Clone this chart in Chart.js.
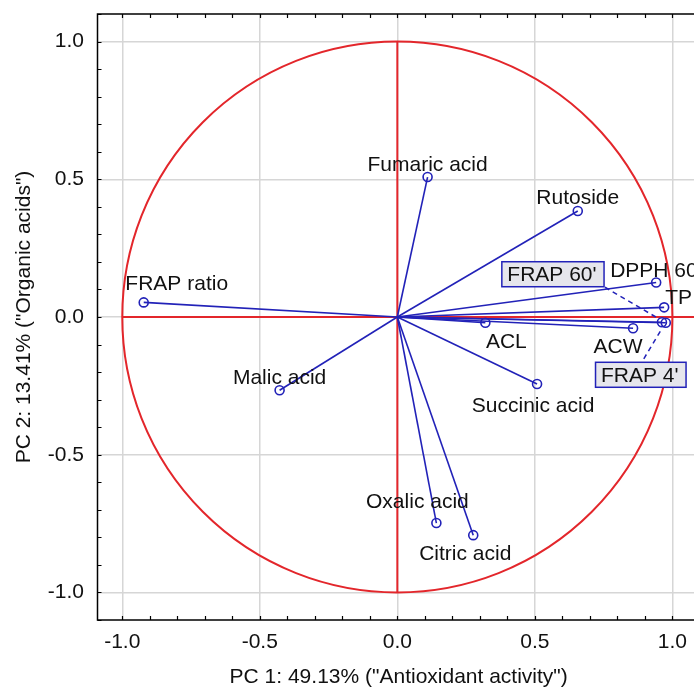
<!DOCTYPE html>
<html>
<head>
<meta charset="utf-8">
<script src="https://cdn.jsdelivr.net/npm/chart.js@4.4.1/dist/chart.umd.min.js"></script>
<style>
  html, body { margin: 0; padding: 0; background: #fff; overflow: hidden; }
  canvas { display: block; }
</style>
</head>
<body>
<canvas id="chart" width="706" height="688"></canvas>
<script>
// PCA loadings (PC1, PC2)
const variables = ['Fumaric acid', 'Rutoside', 'DPPH 60\'', 'TP', 'FRAP 60\'', 'FRAP 4\'', 'ACW', 'ACL',
  'Succinic acid', 'FRAP ratio', 'Malic acid', 'Oxalic acid', 'Citric acid'];
const pc1 = [0.110, 0.656, 0.941, 0.970, 0.962, 0.976, 0.857, 0.320, 0.508, -0.922, -0.428, 0.142, 0.276];
const pc2 = [0.508, 0.385, 0.125, 0.035, -0.019, -0.021, -0.041, -0.021, -0.243, 0.053, -0.266, -0.748, -0.792];

const tickValues = [-1.0, -0.5, 0.0, 0.5, 1.0];
const xTitle = 'PC 1: 49.13% ("Antioxidant activity")';
const yTitle = 'PC 2: 13.41% ("Organic acids")';

const BLUE = '#2222b8';
const RED = '#e3262b';
const FONT = "'Liberation Sans', Arial, sans-serif";

// label placement (pixel offsets from the point, text baseline)
const labelStyle = {
  'Fumaric acid': { dx: 0, dy: -6, align: 'center' },
  'Rutoside': { dx: 0, dy: -7, align: 'center' },
  'DPPH 60\'': { dx: -46, dy: -6, align: 'left' },
  'TP': { dx: 1, dy: -3, align: 'left' },
  'ACW': { dx: -15, dy: 25, align: 'center' },
  'ACL': { dx: 21, dy: 25, align: 'center' },
  'Succinic acid': { dx: -4, dy: 28, align: 'center' },
  'FRAP ratio': { dx: 33, dy: -12, align: 'center' },
  'Malic acid': { dx: 0, dy: -6, align: 'center' },
  'Oxalic acid': { dx: -19, dy: -15, align: 'center' },
  'Citric acid': { dx: -8, dy: 25, align: 'center' },
  'FRAP 60\'': { dx: -110, dy: -41, align: 'center', box: true, lead: [-57, -35, -4, -4] },
  'FRAP 4\'': { dx: -26, dy: 59, align: 'center', box: true, lead: [-22, 36, -4, 6] }
};

const datasets = [
  { data: [{ x: -1, y: 0 }, { x: 1.1, y: 0 }], borderColor: RED, borderWidth: 2, pointRadius: 0, order: 10 },
  { data: [{ x: 0, y: -1 }, { x: 0, y: 1 }], borderColor: RED, borderWidth: 2, pointRadius: 0, order: 10 }
];
variables.forEach((name, i) => {
  datasets.push({
    label: name,
    data: [{ x: 0, y: 0 }, { x: pc1[i], y: pc2[i] }],
    borderColor: BLUE,
    borderWidth: 1.6,
    pointRadius: [0, 4.5],
    pointBorderColor: BLUE,
    pointBackgroundColor: 'rgba(0,0,0,0)',
    pointBorderWidth: 1.6,
    order: 0
  });
});

const framePlugin = {
  id: 'frame',
  beforeDatasetsDraw(chart) {
    const { ctx, scales: { x, y } } = chart;
    // unit circle
    ctx.save();
    ctx.strokeStyle = RED;
    ctx.lineWidth = 2;
    ctx.beginPath();
    ctx.ellipse(x.getPixelForValue(0), y.getPixelForValue(0),
      x.getPixelForValue(1) - x.getPixelForValue(0),
      y.getPixelForValue(0) - y.getPixelForValue(1), 0, 0, Math.PI * 2);
    ctx.stroke();
    ctx.restore();
  },
  afterDraw(chart) {
    const { ctx, chartArea: a, scales: { x, y } } = chart;
    ctx.save();
    ctx.strokeStyle = '#000';
    ctx.lineWidth = 1.5;
    ctx.strokeRect(a.left, a.top, a.right - a.left, a.bottom - a.top);
    // minor + major tick marks, pointing inward
    ctx.lineWidth = 1.2;
    ctx.beginPath();
    for (let i = -10; i <= 11; i++) {
      const px = Math.round(x.getPixelForValue(i / 10)) + 0.5;
      ctx.moveTo(px, a.top); ctx.lineTo(px, a.top + 4);
      ctx.moveTo(px, a.bottom); ctx.lineTo(px, a.bottom - 4);
    }
    for (let i = -11; i <= 11; i++) {
      const py = Math.round(y.getPixelForValue(i / 10)) + 0.5;
      ctx.moveTo(a.left, py); ctx.lineTo(a.left + 4, py);
      ctx.moveTo(a.right, py); ctx.lineTo(a.right - 4, py);
    }
    ctx.stroke();
    ctx.restore();
  }
};

const labelPlugin = {
  id: 'labels',
  afterDatasetsDraw(chart) {
    const ctx = chart.ctx;
    ctx.save();
    ctx.font = '21px ' + FONT;
    ctx.textBaseline = 'alphabetic';
    chart.data.datasets.forEach((ds, i) => {
      const st = labelStyle[ds.label];
      if (!st) return;
      const pt = chart.getDatasetMeta(i).data[1];
      const tx = pt.x + st.dx;
      const ty = pt.y + st.dy;
      if (st.box) {
        const w = ctx.measureText(ds.label).width;
        ctx.fillStyle = '#e6e6ec';
        ctx.fillRect(tx - w / 2 - 5.5, ty - 19.5, w + 13, 25);
        ctx.strokeStyle = BLUE;
        ctx.lineWidth = 1.5;
        ctx.strokeRect(tx - w / 2 - 5.5, ty - 19.5, w + 13, 25);
        ctx.setLineDash([5, 4]);
        ctx.beginPath();
        ctx.moveTo(pt.x + st.lead[0], pt.y + st.lead[1]);
        ctx.lineTo(pt.x + st.lead[2], pt.y + st.lead[3]);
        ctx.stroke();
        ctx.setLineDash([]);
      }
      ctx.fillStyle = '#111';
      ctx.textAlign = st.align;
      ctx.fillText(ds.label, tx, ty);
    });
    ctx.restore();
  }
};

const majorOnly = (scale) => { scale.ticks = tickValues.map(v => ({ value: v })); };

new Chart(document.getElementById('chart'), {
  type: 'scatter',
  data: { datasets },
  options: {
    responsive: false,
    animation: false,
    showLine: true,
    layout: { padding: { top: 14, right: 1.5, left: 0, bottom: 0 } },
    plugins: { legend: { display: false }, tooltip: { enabled: false } },
    scales: {
      x: {
        min: -1.09, max: 1.1,
        afterBuildTicks: majorOnly,
        afterFit: (s) => { s.height = 68; s.paddingLeft = 0; s.paddingRight = 0; },
        grid: { color: '#d6d6d6', lineWidth: 1.5, drawTicks: false },
        border: { display: false },
        ticks: {
          padding: 10, color: '#111', font: { family: FONT, size: 21 },
          callback: (v) => v.toFixed(1)
        },
        title: {
          display: true, text: xTitle, color: '#111',
          font: { family: FONT, size: 21, lineHeight: 1 },
          padding: { top: 0, bottom: 0 }
        }
      },
      y: {
        min: -1.1, max: 1.1,
        afterBuildTicks: majorOnly,
        afterFit: (s) => { s.width = 97.5; s.paddingTop = 0; s.paddingBottom = 0; },
        grid: { color: '#d6d6d6', lineWidth: 1.5, drawTicks: false },
        border: { display: false },
        ticks: {
          padding: 13.5, color: '#111', font: { family: FONT, size: 21 },
          callback: (v) => v.toFixed(1)
        },
        title: {
          display: true, text: yTitle, color: '#111',
          font: { family: FONT, size: 21, lineHeight: 1 },
          padding: { top: 14, bottom: 0 }
        }
      }
    }
  },
  plugins: [framePlugin, labelPlugin]
});
</script>
</body>
</html>
